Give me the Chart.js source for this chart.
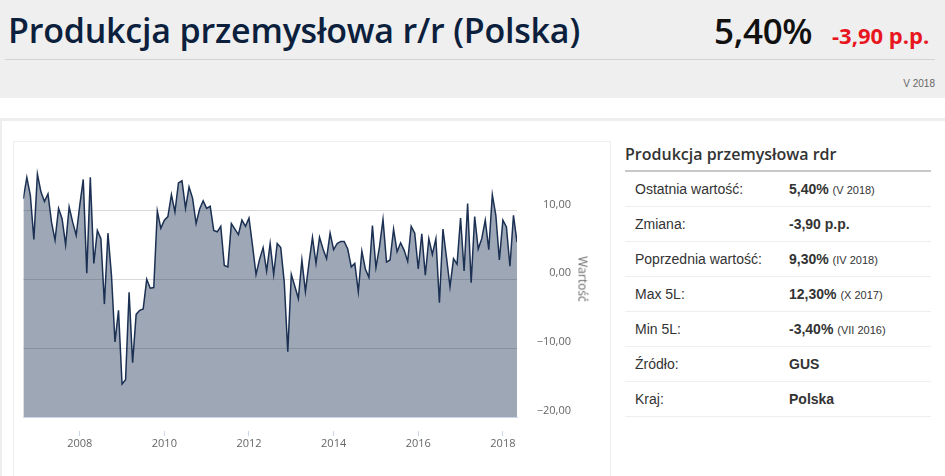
<!DOCTYPE html>
<html lang="pl">
<head>
<meta charset="utf-8">
<title>Produkcja przemysłowa r/r (Polska)</title>
<script src="https://cdn.jsdelivr.net/npm/chart.js@4.4.1/dist/chart.umd.min.js"></script>
<style>
  html, body { margin: 0; padding: 0; background: #fff; }
  body { width: 945px; height: 476px; overflow: hidden; position: relative; font-family: "Liberation Sans", Arial, sans-serif; }

  /* header */
  .head { position: absolute; left: 0; top: 0; width: 945px; height: 98px; background: #efefef; }
  .head h1 { position: absolute; left: 8px; top: 7px; margin: 0; font: 600 34px "Open Sans", sans-serif; color: #0c1f3d; letter-spacing: -0.2px; white-space: nowrap; }
  .head .big { position: absolute; left: 714px; top: 7px; font: 600 35px "Open Sans", sans-serif; color: #111; letter-spacing: -0.3px; }
  .head .chg { position: absolute; left: 832px; top: 20px; font: 700 22px "Open Sans", sans-serif; color: #e8161e; letter-spacing: 0px; }
  .head .rule { position: absolute; left: 5px; top: 59px; width: 930px; height: 1px; background: #d3d3d3; }
  .head .date { position: absolute; right: 10px; top: 78px; font-size: 10px; color: #666; }

  /* card */
  .card { position: absolute; left: 0; top: 118px; width: 943px; height: 360px; border-top: 3px solid #eee; border-left: 2px solid #eee; }
  .frame { position: absolute; left: 13px; top: 141px; width: 596px; height: 340px; border: 1px solid #eee; }
  .plot { position: absolute; left: 13px; top: 141px; width: 597px; height: 335px; }
  .ytitle { position: absolute; left: 583px; top: 279px; transform: translate(-50%, -50%) rotate(90deg); font: 12px "Open Sans", sans-serif; color: #666; white-space: nowrap; }

  /* side table */
  .side { position: absolute; left: 625px; top: 141px; width: 306px; }
  .side h2 { margin: 0; height: 27px; padding-top: 2px; font: 600 16px "Open Sans", sans-serif; color: #333; border-bottom: 2px solid #c8c8c8; }
  .side table { width: 100%; border-collapse: collapse; }
  .side td { height: 34px; border-bottom: 1px solid #eee; font-size: 14px; color: #333; padding: 0; }
  .side td.k { padding-left: 10px; width: 154px; }
  .side td.v { font-weight: bold; }
  .side td.v small { font-weight: normal; font-size: 11px; }
</style>
</head>
<body>
<div class="head">
  <h1>Produkcja przemysłowa r/r (Polska)</h1>
  <div class="big">5,40%</div>
  <div class="chg">-3,90 p.p.</div>
  <div class="rule"></div>
  <div class="date">V 2018</div>
</div>
<div class="card"></div>
<div class="frame"></div>
<div class="plot"><canvas id="chart"></canvas></div>
<div class="ytitle" id="ytitle"></div>

<div class="side">
  <h2>Produkcja przemysłowa rdr</h2>
  <table>
    <tr><td class="k">Ostatnia wartość:</td><td class="v">5,40% <small>(V 2018)</small></td></tr>
    <tr><td class="k">Zmiana:</td><td class="v">-3,90 p.p.</td></tr>
    <tr><td class="k">Poprzednia wartość:</td><td class="v">9,30% <small>(IV 2018)</small></td></tr>
    <tr><td class="k">Max 5L:</td><td class="v">12,30% <small>(X 2017)</small></td></tr>
    <tr><td class="k">Min 5L:</td><td class="v">-3,40% <small>(VII 2016)</small></td></tr>
    <tr><td class="k">Źródło:</td><td class="v">GUS</td></tr>
    <tr><td class="k">Kraj:</td><td class="v">Polska</td></tr>
  </table>
</div>

<script>
// monthly series, first point IX 2006, last point V 2018
var firstYear = 2006;
var firstMonth = 9;
var values = [
  11.7, 14.8, 12.2, 5.8,
  15.3, 12.7, 11.3, 12.4, 8.3, 5.7, 10.3, 8.8, 5.0, 10.5, 8.3, 6.4,
  10.7, 14.5, 0.9, 14.8, 2.3, 7.1, 5.9, -3.6, 6.7, 0.6, -9.1, -4.5,
  -15.2, -14.6, -1.9, -12.1, -5.1, -4.5, -4.3, 0.0, -1.3, -1.2, 9.9, 7.4,
  8.6, 9.1, 12.3, 9.8, 14.0, 14.3, 10.3, 13.4, 11.8, 8.1, 10.2, 11.4,
  10.3, 10.6, 7.1, 6.9, 7.7, 2.0, 1.8, 8.1, 7.3, 6.5, 8.6, 7.7,
  8.9, 4.9, 0.7, 2.9, 4.6, 1.2, 5.2, 0.7, 5.2, 4.6, -0.4, -10.5,
  0.7, -1.0, -2.8, 2.8, -1.8, 2.3, 6.1, 2.3, 6.1, 4.4, 3.0, 6.7,
  4.3, 5.2, 5.5, 5.5, 4.4, 1.8, 2.3, -1.8, 4.1, 1.5, 0.3, 7.8,
  1.7, 4.7, 8.7, 2.5, 2.8, 7.3, 4.0, 5.3, 4.2, 2.6, 7.7, 6.7,
  1.5, 6.6, 0.6, 5.9, 3.6, 5.9, -3.4, 7.3, 3.2, -1.1, 3.0, 2.2,
  8.9, 1.2, 11.0, -0.5, 9.1, 4.4, 5.9, 8.6, 4.3, 12.3, 9.3, 2.8,
  8.6, 7.6, 1.9, 9.3, 5.4
];
var yearTicks = [2008, 2010, 2012, 2014, 2016, 2018];
var valueTicks = [-20, -10, 0, 10, 20];
var axisTitle = 'Wartość';

document.getElementById('ytitle').textContent = axisTitle;

// x as fractional year
var points = values.map(function (v, i) {
  return { x: firstYear + (firstMonth - 1 + i) / 12, y: v };
});

function fmt(v) {
  var s = Math.abs(v).toFixed(2).replace('.', ',');
  return (v < 0 ? '\u2212' : '') + s;
}

var labelFont = { family: "'Open Sans', sans-serif", size: 11 };

new Chart(document.getElementById('chart'), {
  type: 'line',
  data: {
    datasets: [{
      data: points,
      borderColor: '#1b3052',
      borderWidth: 1.5,
      backgroundColor: 'rgba(28, 50, 84, 0.43)',
      fill: 'start',
      tension: 0,
      pointRadius: 0
    }]
  },
  options: {
    responsive: true,
    maintainAspectRatio: false,
    animation: false,
    layout: { padding: { left: 10.3, right: 39, top: 0.6, bottom: 0 } },
    plugins: { legend: { display: false }, tooltip: { enabled: false } },
    scales: {
      x: {
        type: 'linear',
        min: points[0].x,
        max: points[points.length - 1].x,
        afterBuildTicks: function (axis) {
          axis.ticks = yearTicks.map(function (v) { return { value: v }; });
        },
        afterFit: function (s) {
          s.height = 59;
          s.paddingLeft = 0;
          s.paddingRight = 0;
        },
        border: { display: true, color: '#ccd6eb', width: 1 },
        grid: {
          drawOnChartArea: false,
          tickLength: 19,
          tickColor: '#ccd6eb',
          tickBorderDash: [0, 13, 6, 100]
        },
        ticks: {
          padding: 1,
          maxRotation: 0,
          autoSkip: false,
          color: '#666',
          font: labelFont,
          callback: function (v) { return String(v); }
        }
      },
      y: {
        position: 'right',
        min: -20,
        max: 20,
        afterBuildTicks: function (axis) {
          axis.ticks = valueTicks.map(function (v) { return { value: v }; });
        },
        afterFit: function (s) {
          s.width = 54;
          s.paddingTop = 0;
          s.paddingBottom = 0;
        },
        border: { display: false },
        grid: { color: '#d9d9d9', drawTicks: false },
        ticks: {
          padding: 10,
          crossAlign: 'far',
          labelOffset: -6,
          color: '#666',
          font: labelFont,
          callback: function (v) { return v === 20 ? null : fmt(v); }
        }
      }
    }
  }
});
</script>
</body>
</html>
